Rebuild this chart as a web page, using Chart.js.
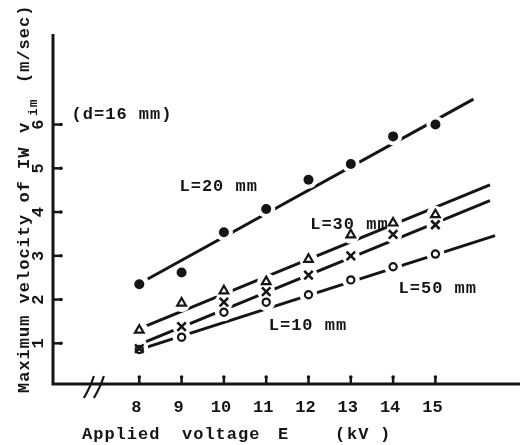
<!DOCTYPE html>
<html>
<head>
<meta charset="utf-8">
<script src="https://cdn.jsdelivr.net/npm/chart.js@4.4.0/dist/chart.umd.min.js"></script>
<style>
  html, body { margin: 0; padding: 0; background: #fff; }
  canvas { display: block; }
</style>
</head>
<body>
<canvas id="myChart" width="529" height="445"></canvas>
<script>
// applied voltage E (kV)
const voltages = [8, 9, 10, 11, 12, 13, 14, 15];

// max velocity of IW v_im (m/sec), one list per electrode length L
const vL20 = [2.35, 2.62, 3.54, 4.07, 4.74, 5.10, 5.73, 6.00];
const vL30 = [1.30, 1.92, 2.20, 2.41, 2.92, 3.48, 3.75, 3.94];
const vL10 = [0.88, 1.38, 1.94, 2.18, 2.56, 3.00, 3.49, 3.71];
const vL50 = [0.86, 1.14, 1.71, 1.94, 2.11, 2.45, 2.75, 3.04];

// hand drawn straight lines through each set: [kV, m/sec] start and end
const fitL20 = [[8.2, 2.47], [15.9, 6.58]];
const fitL30 = [[8.12, 1.38], [16.29, 4.62]];
const fitL10 = [[8.16, 1.04], [16.29, 4.26]];
const fitL50 = [[8.2, 0.92], [16.41, 3.46]];

const xTicks = [8, 9, 10, 11, 12, 13, 14, 15];
const yTicks = [1, 2, 3, 4, 5, 6];

const ink = '#151515';
const mono = '"Liberation Mono", "DejaVu Sans Mono", monospace';

// text put on the plot, anchored in data units
const notes = [
  {text: '(d=16 mm)', x: 6.40, y: 6.13},
  {text: 'L=20 mm', x: 8.95, y: 4.48},
  {text: 'L=30 mm', x: 12.04, y: 3.62},
  {text: 'L=50 mm', x: 14.13, y: 2.15},
  {text: 'L=10 mm', x: 11.06, y: 1.30},
];

const pts = vals => voltages.map((v, i) => ({x: v, y: vals[i]}));
const seg = f => f.map(([x, y]) => ({x, y}));

const series = [
  {vals: vL20, fit: fitL20, style: 'circle', r: 5, bg: ink, bw: 0},
  {vals: vL30, fit: fitL30, style: 'triangle', r: 5, bg: '#fff', bw: 2.2},
  {vals: vL10, fit: fitL10, style: 'crossRot', r: 6, bg: ink, bw: 2.6},
  {vals: vL50, fit: fitL50, style: 'circle', r: 3.6, bg: '#fff', bw: 2.2},
];

const datasets = [];
series.forEach(s => {
  // the line itself
  datasets.push({
    data: seg(s.fit), order: 3, showLine: true, pointRadius: 0,
    borderColor: ink, borderWidth: 3
  });
  // white patch so the line breaks at each mark
  datasets.push({
    data: pts(s.vals), order: 2, showLine: false,
    pointStyle: 'circle', pointRadius: 9, pointBackgroundColor: '#fff',
    pointBorderWidth: 0, pointBorderColor: '#fff'
  });
  // the marks
  datasets.push({
    data: pts(s.vals), order: 1, showLine: false,
    pointStyle: s.style, pointRadius: s.r, pointBackgroundColor: s.bg,
    pointBorderColor: ink, pointBorderWidth: s.bw
  });
});

function vtext(ctx, str, x, yStart, font, align) {
  ctx.save();
  ctx.translate(x, yStart);
  ctx.rotate(-Math.PI / 2);
  ctx.font = font;
  ctx.textAlign = align || 'left';
  ctx.textBaseline = 'alphabetic';
  ctx.fillText(str, 0, 0);
  ctx.restore();
}

const paperAxes = {
  id: 'paperAxes',
  beforeDatasetsDraw(chart) {
    const {ctx, chartArea: a, scales: {x, y}} = chart;
    ctx.save();
    ctx.strokeStyle = ink;
    ctx.fillStyle = ink;
    ctx.lineWidth = 3;
    ctx.beginPath();
    ctx.moveTo(a.left, a.top);
    ctx.lineTo(a.left, a.bottom);
    ctx.lineTo(a.right, a.bottom);
    ctx.stroke();

    ctx.lineWidth = 2.5;
    xTicks.forEach(v => {
      const px = x.getPixelForValue(v);
      ctx.beginPath();
      ctx.moveTo(px, a.bottom);
      ctx.lineTo(px, a.bottom - 7);
      ctx.stroke();
      ctx.beginPath();
      ctx.arc(px, a.bottom - 7, 1.8, 0, Math.PI * 2);
      ctx.fill();
    });
    yTicks.forEach(v => {
      const py = y.getPixelForValue(v);
      ctx.beginPath();
      ctx.moveTo(a.left, py);
      ctx.lineTo(a.left + 8, py);
      ctx.stroke();
      ctx.beginPath();
      ctx.arc(a.left + 8, py, 1.8, 0, Math.PI * 2);
      ctx.fill();
    });

    // axis break marks
    const bx = x.getPixelForValue(6.95);
    ctx.lineWidth = 2.2;
    [-5, 5].forEach(dx => {
      ctx.beginPath();
      ctx.moveTo(bx + dx - 6, a.bottom + 14);
      ctx.quadraticCurveTo(bx + dx + 1, a.bottom + 2, bx + dx + 4, a.bottom - 8);
      ctx.stroke();
    });
    ctx.restore();
  },
  afterDatasetsDraw(chart) {
    const {ctx, chartArea: a, scales: {x, y}} = chart;
    ctx.save();
    ctx.fillStyle = ink;
    const f17 = 'bold 17px ' + mono;

    // x tick labels
    ctx.font = f17;
    ctx.textAlign = 'center';
    ctx.textBaseline = 'alphabetic';
    xTicks.forEach(v => ctx.fillText(String(v), x.getPixelForValue(v) - 3, a.bottom + 28));

    // y tick labels, turned like the axis title
    yTicks.forEach(v => vtext(ctx, String(v), a.left - 10, y.getPixelForValue(v), f17, 'center'));

    ctx.letterSpacing = '1px';
    // x title
    ctx.font = f17;
    ctx.textAlign = 'left';
    ctx.fillText('Applied', 82, 439);
    ctx.fillText('voltage', 182, 439);
    ctx.fillText('E', 278, 439);
    ctx.fillText('(', 335, 439);
    ctx.fillText('kV', 347, 439);
    ctx.fillText(')', 380, 439);

    // y title
    vtext(ctx, 'Maximum velocity of IW', 29, 393, f17);
    vtext(ctx, 'v', 29, 133, f17);
    vtext(ctx, 'im', 37, 116, 'bold 13px ' + mono);
    vtext(ctx, '(m/sec)', 29, 83, f17);

    // notes on the plot
    ctx.font = f17;
    notes.forEach(n => ctx.fillText(n.text, x.getPixelForValue(n.x), y.getPixelForValue(n.y)));
    ctx.restore();
  }
};

new Chart(document.getElementById('myChart'), {
  type: 'scatter',
  data: {datasets},
  options: {
    responsive: false,
    animation: false,
    events: [],
    layout: {padding: {left: 53, top: 34, right: 0, bottom: 61}},
    plugins: {legend: {display: false}, tooltip: {enabled: false}},
    scales: {
      x: {type: 'linear', display: false, min: 5.96, max: 17.0},
      y: {type: 'linear', display: false, min: 0.07, max: 8.07}
    }
  },
  plugins: [paperAxes]
});
</script>
</body>
</html>
